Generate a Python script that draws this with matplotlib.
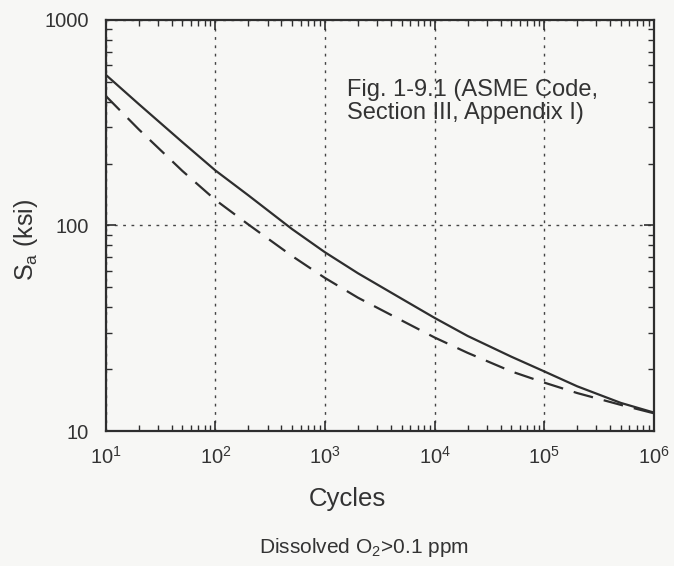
import matplotlib
matplotlib.use("Agg")
import matplotlib.pyplot as plt
from matplotlib.ticker import LogLocator, NullFormatter

plt.rcParams['font.family'] = ['Liberation Sans', 'DejaVu Sans']

cycles = [10, 20, 50, 100, 200, 500, 1e3, 2e3, 5e3, 1e4, 2e4, 5e4, 1e5, 2e5, 5e5, 1e6]
sa_asme = [540, 389, 254, 185, 140, 96, 74, 58.5, 44, 35.5, 29, 23, 19.5, 16.5, 13.7, 12.3]
sa_o2 = [426, 293, 184, 133, 101, 71, 55.5, 44.5, 34.5, 28.5, 24, 19.5, 17.2, 15.3, 13.4, 12.2]

x_ticks = [1e1, 1e2, 1e3, 1e4, 1e5, 1e6]
x_ticklabels = [r'$\mathregular{10^{1}}$', r'$\mathregular{10^{2}}$', r'$\mathregular{10^{3}}$',
                r'$\mathregular{10^{4}}$', r'$\mathregular{10^{5}}$', r'$\mathregular{10^{6}}$']
y_ticks = [10, 100, 1000]
y_ticklabels = ['10', '100', '1000']

ink = '#2e2e2e'
txt = '#333333'
bg = '#f7f7f5'

fig = plt.figure(figsize=(6.74, 5.66), dpi=100, facecolor=bg)
ax = fig.add_axes([0.157, 0.2385, 0.813, 0.7265], facecolor=bg)

ax.set_xscale('log')
ax.set_yscale('log')
ax.set_xlim(10, 1e6)
ax.set_ylim(10, 1000)

ax.plot(cycles, sa_asme, color=ink, lw=1.6, ls='-')
ax.plot(cycles, sa_o2, color=ink, lw=1.6, ls=(0, (9, 5)))

ax.set_xticks(x_ticks)
ax.set_xticklabels(x_ticklabels)
ax.set_yticks(y_ticks)
ax.set_yticklabels(y_ticklabels)
ax.xaxis.set_minor_locator(LogLocator(base=10, subs=range(2, 10)))
ax.yaxis.set_minor_locator(LogLocator(base=10, subs=range(2, 10)))
ax.xaxis.set_minor_formatter(NullFormatter())
ax.yaxis.set_minor_formatter(NullFormatter())

ax.tick_params(which='both', direction='in', top=True, right=True, colors=ink, labelcolor=txt)
ax.tick_params(which='major', length=7, width=1.2, labelsize=14.5)
ax.tick_params(axis='x', which='major', pad=11)
ax.tick_params(axis='y', which='major', pad=12)
ax.tick_params(which='minor', length=4, width=1.0)

ax.grid(True, which='major', ls=(0, (2, 4)), color='#444444', lw=1.0)

for s in ax.spines.values():
    s.set_color(ink)
    s.set_linewidth(1.6)

ax.set_xlabel('Cycles', fontsize=18.5, color=txt)
ax.xaxis.set_label_coords(0.44, -0.135)
ax.set_ylabel(r'S$_\mathregular{a}$ (ksi)', fontsize=18, color=txt)
ax.yaxis.set_label_coords(-0.12, 0.465)

ax.text(0.44, 0.855, 'Fig. 1-9.1 (ASME Code,\nSection III, Appendix I)', transform=ax.transAxes,
        fontsize=17, color=txt, va='top', ha='left', linespacing=1.05)

fig.text(0.54, 0.032, r'Dissolved O$_\mathregular{2}$>0.1 ppm', fontsize=15, color=txt,
         ha='center', va='center')

fig.savefig('out.png', dpi=100, facecolor=bg)
